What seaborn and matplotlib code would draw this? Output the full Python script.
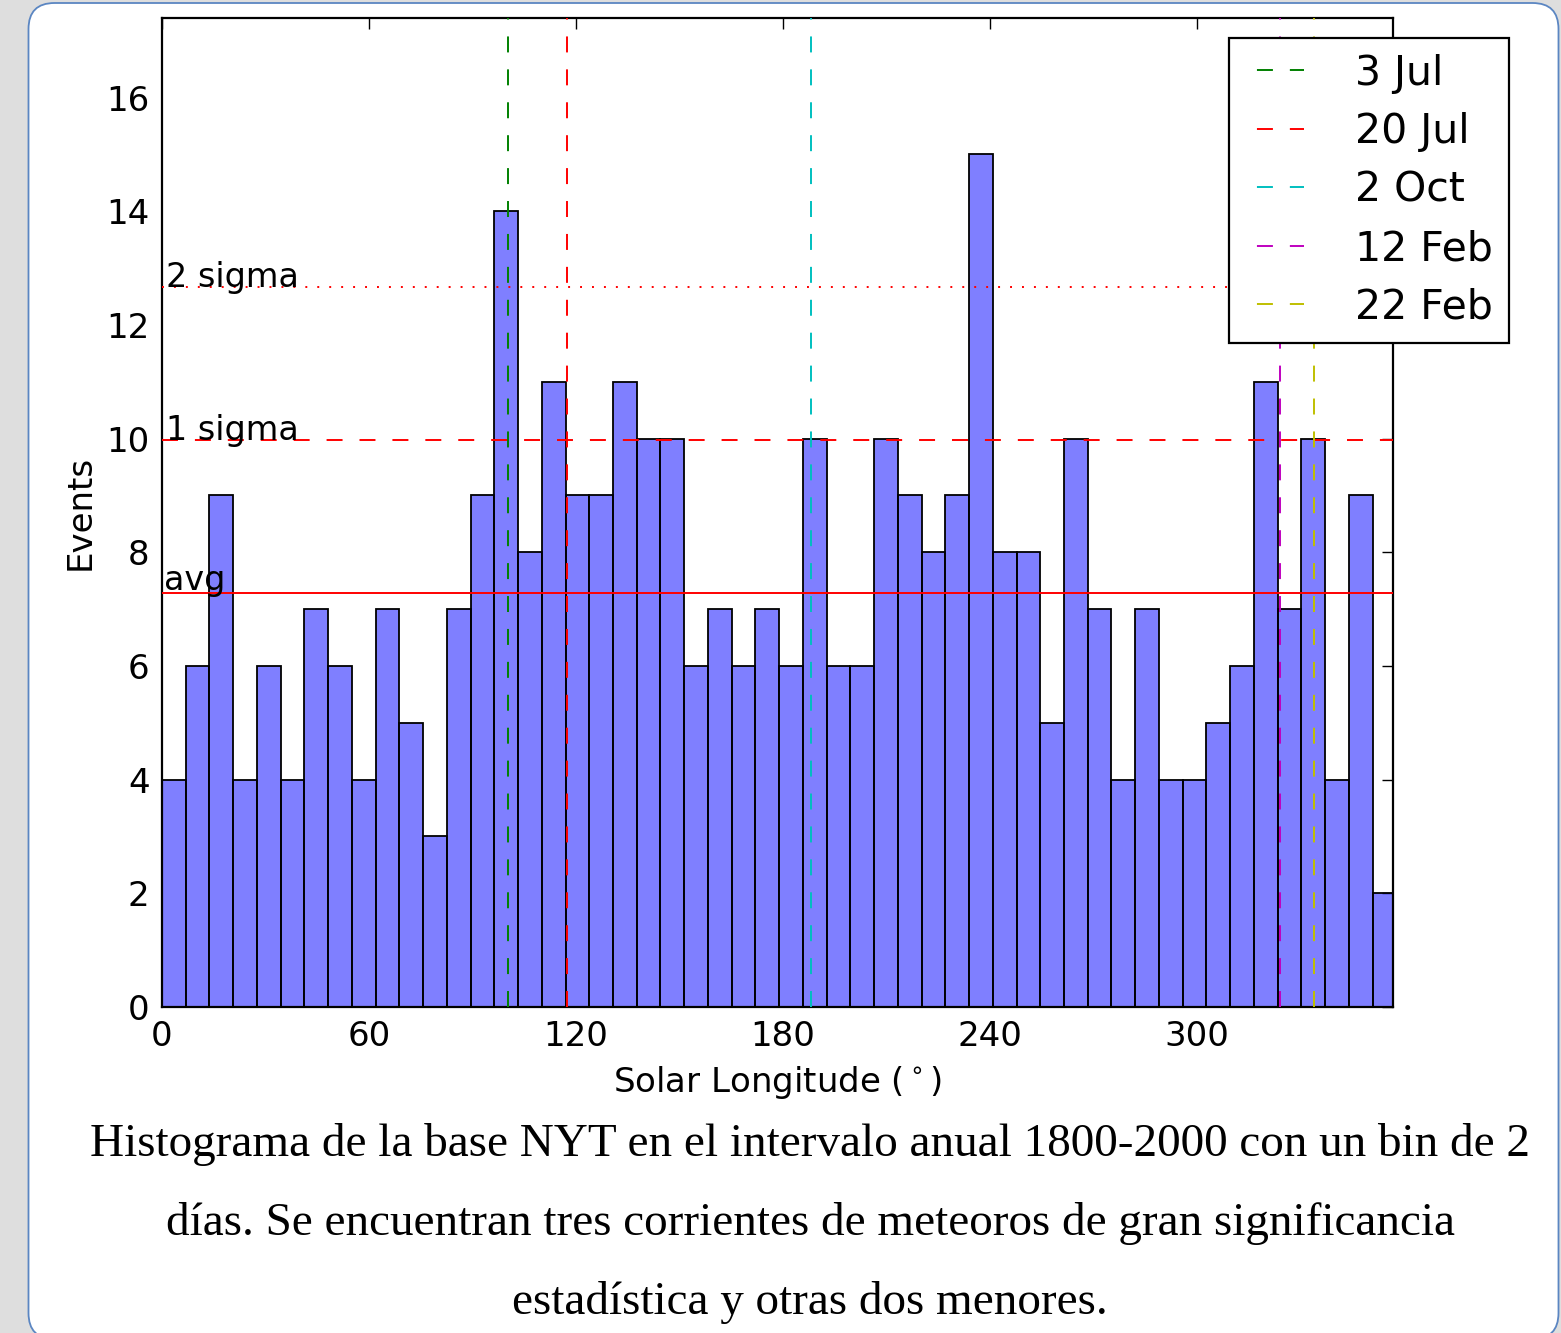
import numpy as np
import pandas as pd
import matplotlib
matplotlib.use('Agg')
import matplotlib.pyplot as plt
import seaborn as sns
from matplotlib.patches import FancyBboxPatch
from matplotlib.transforms import IdentityTransform
from matplotlib.lines import Line2D

# ---------------- data ----------------
counts = [4, 6, 9, 4, 6, 4, 7, 6, 4, 7,
          5, 3, 7, 9, 14, 8, 11, 9, 9, 11,
          10, 10, 6, 7, 6, 7, 6, 10, 6, 6,
          10, 9, 8, 9, 15, 8, 8, 5, 10, 7,
          4, 7, 4, 4, 5, 6, 11, 7, 10, 4,
          9, 2]
bin_width = 6.88
x_max = 356.8
y_max = 17.4
shower_labels = ['3 Jul', '20 Jul', '2 Oct', '12 Feb', '22 Feb']
shower_lons = [100.3, 117.4, 188.1, 324.1, 333.9]
shower_colors = [(0, 0.5, 0), (1, 0, 0), (0, 0.75, 0.75), (0.75, 0, 0.75), (0.75, 0.75, 0)]
xticks = [0, 60, 120, 180, 240, 300]
yticks = [0, 2, 4, 6, 8, 10, 12, 14, 16]
x_label = 'Solar Longitude ($^\\circ$)'
y_label = 'Events'
caption_lines = [
    'Histograma de la base NYT en el intervalo anual 1800-2000 con un bin de 2',
    'días. Se encuentran tres corrientes de meteoros de gran significancia',
    'estadística y otras dos menores.',
]

# ---------------- style ----------------
sns.set_style('white')
plt.rcParams['font.family'] = ['DejaVu Sans']
plt.rcParams['mathtext.fontset'] = 'dejavusans'
plt.rcParams['lines.scale_dashes'] = False
plt.rcParams['text.color'] = 'black'
plt.rcParams['axes.labelcolor'] = 'black'
plt.rcParams['xtick.color'] = 'black'
plt.rcParams['ytick.color'] = 'black'

W, H = 1561, 1333
fig = plt.figure(figsize=(W / 100, H / 100), dpi=100)
fig.patch.set_facecolor('#dedede')
box = FancyBboxPatch((28.5, -6), 1530, 1330 + 6,
                     boxstyle='round,pad=0,rounding_size=26',
                     transform=IdentityTransform(), facecolor='white',
                     edgecolor='#5b86c2', linewidth=1.3, zorder=-10)
fig.add_artist(box)

ax = fig.add_axes([162 / W, 326 / H, 1231 / W, 989 / H])
ax.set_facecolor('white')

edges = [i * bin_width for i in range(len(counts) + 1)]
centers = [(edges[i] + edges[i + 1]) / 2 for i in range(len(counts))]
df = pd.DataFrame({'lon': centers, 'n': counts})
sns.histplot(data=df, x='lon', weights='n', bins=edges, ax=ax,
             color='blue', alpha=0.5, edgecolor='black', linewidth=1.3)

counts_arr = np.array(counts, dtype=float)
avg = counts_arr.mean()
sig = counts_arr.std()

dash = (0, (11.5, 12.2))
dot = (0, (1.4, 7.2))
ax.axhline(avg, color='red', lw=1.4, zorder=3)
ax.axhline(avg + sig, color='red', lw=1.4, linestyle=dash, zorder=3)
ax.axhline(avg + 2 * sig, color='red', lw=1.4, linestyle=dot, zorder=3)

handles = []
for lab, lon, col in zip(shower_labels, shower_lons, shower_colors):
    ax.axvline(lon, color=col, lw=1.4, linestyle=dash, zorder=3)
    handles.append(Line2D([], [], color=col, lw=1.4,
                          linestyle=(15.1, (11.5, 12.2)), label=lab))

ax.text(1.2, avg + 2 * sig, '2 sigma', fontsize=24, va='baseline', zorder=4, color='black')
ax.text(1.2, avg + sig, '1 sigma', fontsize=24, va='baseline', zorder=4, color='black')
ax.text(0.6, avg + 0.05, 'avg', fontsize=24, va='baseline', zorder=4, color='black')

ax.set_xlim(0, x_max)
ax.set_ylim(0, y_max)
ax.set_xticks(xticks)
ax.set_yticks(yticks)
ax.tick_params(direction='in', length=8, width=1.0, top=True, right=True,
               labelsize=24.5, pad=9, colors='black')
for s in ax.spines.values():
    s.set_visible(True)
    s.set_linewidth(1.6)
    s.set_color('black')
ax.set_xlabel(x_label, fontsize=24.5, labelpad=8, color='black')
ax.set_ylabel(y_label, fontsize=24.5, labelpad=7, color='black')

leg = ax.legend(handles=handles, loc='upper right', bbox_to_anchor=(1.094, 0.98),
                borderaxespad=0, fontsize=29.5, handlelength=1.44,
                handletextpad=1.24, labelspacing=0.45, borderpad=0.39,
                fancybox=False, framealpha=1, edgecolor='black')
leg.get_frame().set_linewidth(1.6)
leg.set_zorder(10)
for t in leg.get_texts():
    t.set_color('black')

# caption
baselines = [1156, 1235, 1314]
texts = []
for line, yb in zip(caption_lines, baselines):
    t = fig.text(810 / W, 1 - yb / H, line, ha='center', va='baseline',
                 family=['Liberation Serif', 'DejaVu Serif'], fontsize=30, color='black')
    texts.append(t)
renderer = fig.canvas.get_renderer()
w0 = texts[0].get_window_extent(renderer).width
fs = 30 * 1440 / w0
for t in texts:
    t.set_fontsize(fs)

fig.savefig('out.png', dpi=100, facecolor=fig.get_facecolor())
